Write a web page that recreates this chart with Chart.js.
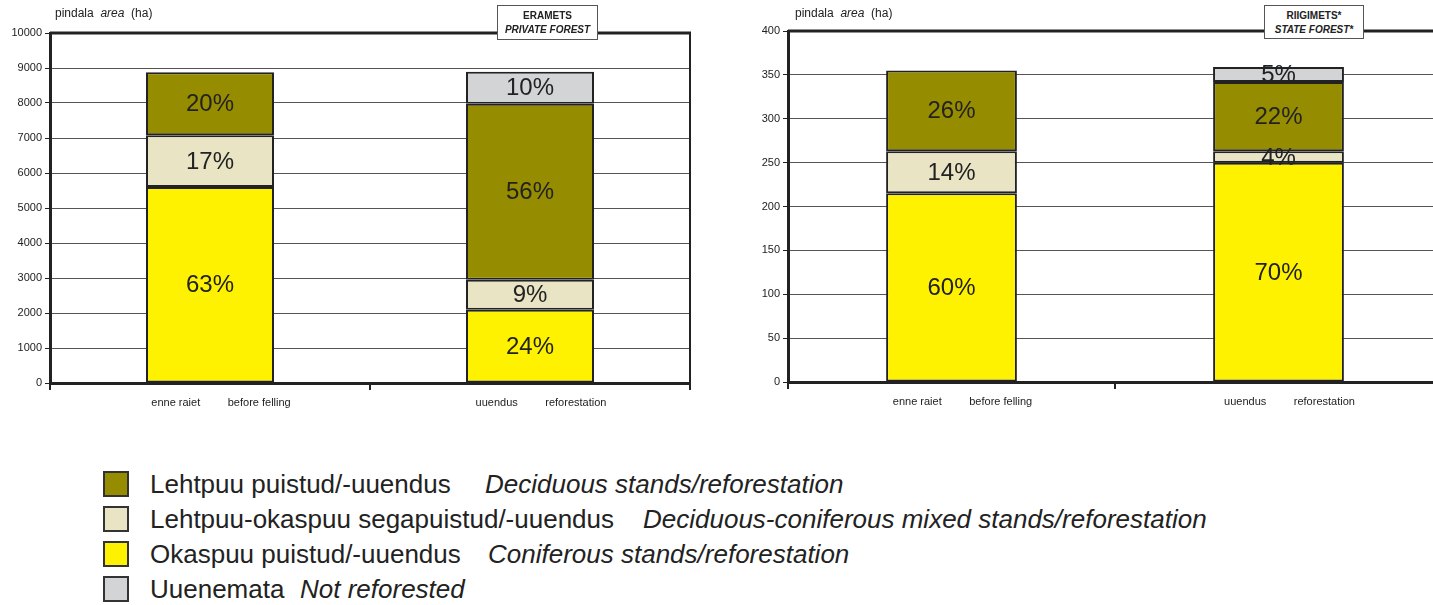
<!DOCTYPE html>
<html>
<head>
<meta charset="utf-8">
<script src="https://cdn.jsdelivr.net/npm/chart.js@4"></script>
<style>
  body { margin: 0; width: 1433px; height: 605px; overflow: hidden; background: #fff;
         position: relative; font-family: "Liberation Sans", Arial, sans-serif; color: #222; }
  .chart { position: absolute; top: 0; height: 420px; }
  .yname { position: absolute; top: 6px; font-size: 12px; white-space: pre; }
  .tbox { position: absolute; top: 5px; background: #fff; border: 1px solid #555;
          font-size: 10px; font-weight: bold; text-align: center; line-height: 14px; padding-top: 3px; box-sizing: border-box; }
  .legend { position: absolute; left: 103px; font-size: 26px; }
  .legend div { position: relative; height: 35px; white-space: nowrap; }
  .legend span.sw { position: absolute; left: 0; top: 0; width: 26px; height: 26px;
                    border: 2px solid #333; box-sizing: border-box; }
  .legend span.t { position: absolute; left: 47px; top: 0; line-height: 26px; }
  .legend i { position: absolute; top: 0; line-height: 26px; }
</style>
</head>
<body>
<div class="chart" style="left:0; width:700px;"><canvas id="privChart"></canvas></div>
<div class="chart" style="left:738px; width:712px;"><canvas id="stateChart"></canvas></div>

<div class="yname" style="left:55px;">pindala  <i>area</i>  (ha)</div>
<div class="yname" style="left:795px;">pindala  <i>area</i>  (ha)</div>
<div class="tbox" style="left:497px; width:101px; height:35px;">ERAMETS<br><i>PRIVATE FOREST</i></div>
<div class="tbox" style="left:1264px; width:100px; height:34px;">RIIGIMETS*<br><i>STATE FOREST*</i></div>

<div class="legend" style="top:471px;" id="legend"></div>

<script>
const categories = ["enne raiet         before felling", "uuendus         reforestation"];
const seriesNames = ["Okaspuu puistud/-uuendus", "Lehtpuu-okaspuu segapuistud/-uuendus", "Lehtpuu puistud/-uuendus", "Uuenemata"];
const seriesNamesEn = ["Coniferous stands/reforestation", "Deciduous-coniferous mixed stands/reforestation", "Deciduous stands/reforestation", "Not reforested"];
const seriesColors = ["#fff200", "#e8e4c4", "#968c00", "#d3d4d6"];

// erametsad (ha)
const privConifer = [5600, 2090];
const privMixed = [1480, 860];
const privDecid = [1800, 5030];
const privNone = [0, 910];
const privConiferPct = ["63%", "24%"];
const privMixedPct = ["17%", "9%"];
const privDecidPct = ["20%", "56%"];
const privNonePct = ["", "10%"];

// riigimetsad (ha)
const stateConifer = [215, 250];
const stateMixed = [48, 13];
const stateDecid = [92, 79];
const stateNone = [0, 17];
const stateConiferPct = ["60%", "70%"];
const stateMixedPct = ["14%", "4%"];
const stateDecidPct = ["26%", "22%"];
const stateNonePct = ["", "5%"];

// legend: Lehtpuu, segapuistud, Okaspuu, Uuenemata
const legendOrder = [2, 1, 0, 3];
const italicLeft = [382, 540, 385, 197];
const legend = document.getElementById("legend");
legendOrder.forEach((s, i) => {
  const row = document.createElement("div");
  row.innerHTML = `<span class="sw" style="background:${seriesColors[s]}"></span>` +
    `<span class="t">${seriesNames[s]}</span><i style="left:${italicLeft[i]}px">${seriesNamesEn[s]}</i>`;
  legend.appendChild(row);
});

const pctLabels = {
  id: "pctLabels",
  afterDatasetsDraw(chart) {
    const ctx = chart.ctx;
    ctx.save();
    ctx.font = '24px "Liberation Sans", Arial, sans-serif';
    ctx.fillStyle = "#222";
    ctx.textAlign = "center";
    ctx.textBaseline = "middle";
    chart.data.datasets.forEach((ds, i) => {
      chart.getDatasetMeta(i).data.forEach((bar, j) => {
        const txt = ds.pct[j];
        if (!txt) return;
        const p = bar.getProps(["x", "y", "base"], true);
        ctx.fillText(txt, p.x, (p.y + p.base) / 2 + 1);
      });
    });
    ctx.restore();
  },
};

const frame = {
  id: "frame",
  afterDraw(chart, args, opts) {
    const ctx = chart.ctx;
    const a = chart.chartArea;
    ctx.save();
    ctx.strokeStyle = "#222";
    ctx.lineWidth = 3;
    ctx.beginPath();
    ctx.moveTo(a.left, a.top);
    ctx.lineTo(a.right + 1, a.top);
    ctx.stroke();
    if (opts.right) {
      ctx.lineWidth = 2;
      ctx.beginPath();
      ctx.moveTo(a.right, a.top);
      ctx.lineTo(a.right, a.bottom);
      ctx.stroke();
    }
    ctx.restore();
  },
};

const makeDatasets = (values, pcts) =>
  values.map((v, i) => ({
    label: seriesNames[i],
    data: v,
    pct: pcts[i],
    backgroundColor: seriesColors[i],
    borderColor: "#222",
    borderWidth: (c) => (c.raw ? 2 : 0),
    borderSkipped: false,
    categoryPercentage: 1,
    barPercentage: 0.4,
  }));

const drawChart = (canvasId, datasets, yMax, yStep, pad, xHeight, rightBorder) => {
  const ctx = document.getElementById(canvasId).getContext("2d");
  return new Chart(ctx, {
    type: "bar",
    data: { labels: categories, datasets },
    plugins: [pctLabels, frame],
    options: {
      responsive: true,
      maintainAspectRatio: false,
      animation: false,
      layout: { padding: pad },
      plugins: {
        legend: { display: false },
        tooltip: { enabled: false },
        frame: { right: rightBorder },
      },
      scales: {
        x: {
          stacked: true,
          afterFit: (scale) => { scale.height = xHeight; },
          grid: { offset: true, drawOnChartArea: false, tickLength: 7, color: "#222", lineWidth: 2 },
          border: { width: 3, color: "#222" },
          ticks: { font: { size: 11, family: '"Liberation Sans", Arial' }, color: "#222",
                   padding: 6, labelOffset: 11, maxRotation: 0, autoSkip: false },
        },
        y: {
          stacked: true,
          min: 0,
          max: yMax,
          afterFit: (scale) => { scale.width = 50; },
          grid: { color: "#555", lineWidth: 1, tickLength: 5, tickColor: "#222" },
          border: { width: 3, color: "#222" },
          ticks: { stepSize: yStep, font: { size: 11, family: '"Liberation Sans", Arial' },
                   color: "#222", padding: 3, callback: (v) => String(v) },
        },
      },
    },
  });
};

drawChart("privChart",
  makeDatasets([privConifer, privMixed, privDecid, privNone],
               [privConiferPct, privMixedPct, privDecidPct, privNonePct]),
  10000, 1000, { top: 33, right: 10, left: 0, bottom: 0 }, 37, true);

drawChart("stateChart",
  makeDatasets([stateConifer, stateMixed, stateDecid, stateNone],
               [stateConiferPct, stateMixedPct, stateDecidPct, stateNonePct]),
  400, 50, { top: 31, right: 8, left: 0, bottom: 0 }, 38, false);
</script>
</body>
</html>
